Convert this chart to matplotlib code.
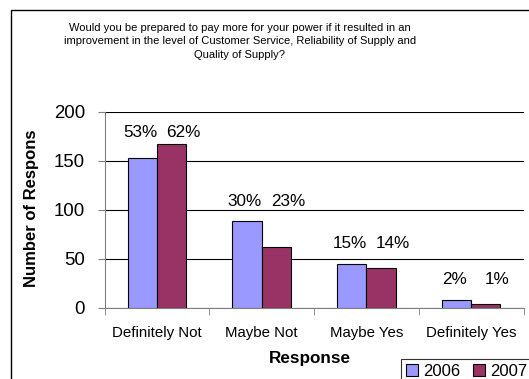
import matplotlib.pyplot as plt
import numpy as np
from matplotlib.patches import Rectangle

plt.rcParams['font.family'] = ['Liberation Sans', 'DejaVu Sans']

categories = ['Definitely Not', 'Maybe Not', 'Maybe Yes', 'Definitely Yes']
years = ['2006', '2007']
v2006 = [153, 88, 45, 8]
v2007 = [167, 62, 40, 4]
pct2006 = ['53%', '30%', '15%', '2%']
pct2007 = ['62%', '23%', '14%', '1%']
title = ('Would you be prepared to pay more for your power if it resulted in an\n'
         'improvement in the level of Customer Service, Reliability of Supply and\n'
         'Quality of Supply?')

W, H = 529, 379
fig = plt.figure(figsize=(W / 100, H / 100), dpi=100)

# chart border (cropped on right/bottom)
fig.patches.append(Rectangle((11 / W, -0.1), 1.2, 1 - 10 / H + 0.1, transform=fig.transFigure,
                             fill=False, edgecolor='black', linewidth=1.0))

ax = fig.add_axes([104.5 / W, (H - 307.5) / H, 419 / W, 195.5 / H])
x = np.arange(len(categories))
w = 0.28
ax.bar(x - w / 2, v2006, w, color='#9999FF', edgecolor='black', linewidth=0.8, label=years[0], zorder=3)
ax.bar(x + w / 2, v2007, w, color='#993366', edgecolor='black', linewidth=0.8, label=years[1], zorder=3)

top = np.maximum(v2006, v2007)
label_y = np.minimum(top + 13, 171)
for i in range(len(categories)):
    ax.text(x[i] - w / 2 - 0.02, label_y[i], pct2006[i], ha='center', va='bottom', fontsize=12.3)
    ax.text(x[i] + w / 2 + 0.11, label_y[i], pct2007[i], ha='center', va='bottom', fontsize=12.3)

ax.set_xlim(-0.5, len(categories) - 0.5)
ax.set_ylim(0, 200)
ax.set_yticks([0, 50, 100, 150, 200])
ax.yaxis.grid(True, color='black', linewidth=0.8)
ax.set_axisbelow(True)
ax.set_xticks(x)
ax.set_xticklabels(categories, fontsize=10.8)
ax.set_xticks(np.arange(-0.5, len(categories)), minor=True)
ax.tick_params(axis='x', which='major', length=0, pad=13)
ax.tick_params(axis='x', which='minor', length=5, color='#808080')
ax.tick_params(axis='y', labelsize=13.4, length=5, color='#808080', pad=9)
for s in ['top', 'right']:
    ax.spines[s].set_visible(False)
for s in ['left', 'bottom']:
    ax.spines[s].set_color('#808080')

fig.text(240 / W, 1 - 41.5 / H, title, ha='center', va='center', fontsize=8.0, linespacing=1.45)
fig.text(310 / W, 1 - 358 / H, 'Response', ha='center', va='center', fontsize=12.3, fontweight='bold')
fig.text(32 / W, 1 - 287 / H, 'Number of Respons', ha='center', va='bottom', rotation=90,
         fontsize=12, fontweight='bold')

leg = fig.legend(loc='upper left', bbox_to_anchor=(401 / W, 1 - 359 / H), ncol=2, fontsize=12,
                 frameon=True, fancybox=False, handlelength=0.7, handleheight=0.7,
                 handletextpad=0.3, columnspacing=0.8, borderpad=0.3, borderaxespad=0)
leg.get_frame().set_edgecolor('black')
leg.get_frame().set_linewidth(0.8)

fig.savefig('out.png', dpi=100)
